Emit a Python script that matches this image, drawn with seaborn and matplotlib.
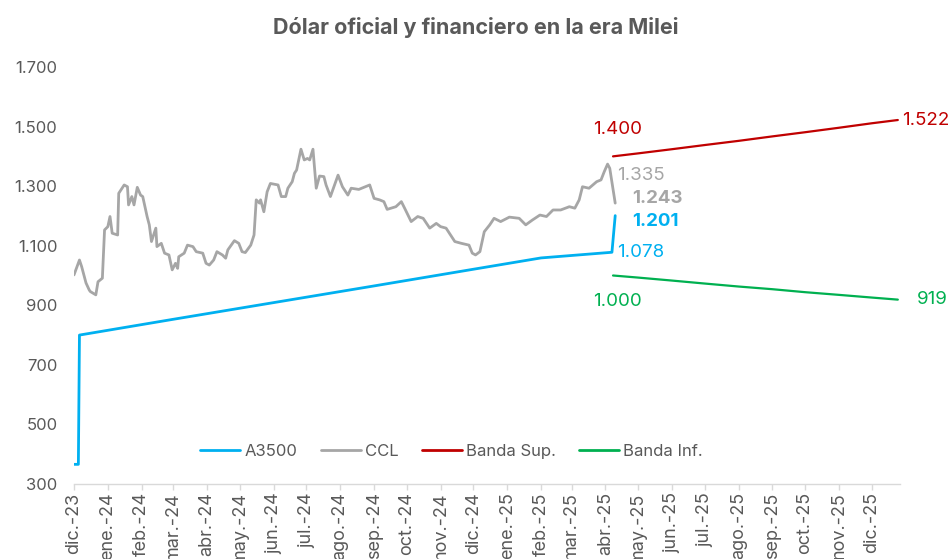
import pandas as pd
import numpy as np
import matplotlib
matplotlib.use('Agg')
import matplotlib.pyplot as plt
import matplotlib.dates as mdates
from matplotlib.ticker import FuncFormatter, FixedLocator
from matplotlib.lines import Line2D
import seaborn as sns

# --- data ---
a3500_dates = ['2023-12-01', '2023-12-05', '2023-12-06', '2024-03-01', '2024-06-01',
               '2024-09-01', '2024-12-01', '2025-02-01', '2025-04-07', '2025-04-10']
a3500_vals = [366, 366, 800, 853, 909, 965, 1021, 1059, 1078, 1201]

ccl_dates = ['2023-12-01', '2023-12-06', '2023-12-08', '2023-12-12', '2023-12-15', '2023-12-16',
             '2023-12-21', '2023-12-23', '2023-12-27', '2023-12-29', '2024-01-01', '2024-01-03',
             '2024-01-05', '2024-01-10', '2024-01-11', '2024-01-16', '2024-01-19', '2024-01-20',
             '2024-01-23', '2024-01-25', '2024-01-28', '2024-01-31', '2024-02-02', '2024-02-06',
             '2024-02-08', '2024-02-10', '2024-02-14', '2024-02-15', '2024-02-19', '2024-02-22',
             '2024-02-26', '2024-02-29', '2024-03-03', '2024-03-05', '2024-03-06', '2024-03-11',
             '2024-03-14', '2024-03-19', '2024-03-22', '2024-03-28', '2024-03-31', '2024-04-03',
             '2024-04-07', '2024-04-10', '2024-04-15', '2024-04-18', '2024-04-20', '2024-04-26',
             '2024-04-30', '2024-05-03', '2024-05-06', '2024-05-11', '2024-05-14', '2024-05-16',
             '2024-05-19', '2024-05-20', '2024-05-23', '2024-05-26', '2024-05-29', '2024-06-05',
             '2024-06-08', '2024-06-12', '2024-06-14', '2024-06-18', '2024-06-20', '2024-06-22',
             '2024-06-26', '2024-06-29', '2024-07-02', '2024-07-04', '2024-07-07', '2024-07-10',
             '2024-07-13', '2024-07-17', '2024-07-19', '2024-07-23', '2024-07-30', '2024-08-03',
             '2024-08-08', '2024-08-11', '2024-08-18', '2024-08-28', '2024-09-01', '2024-09-06',
             '2024-09-10', '2024-09-13', '2024-09-21', '2024-09-26', '2024-09-29', '2024-10-05',
             '2024-10-11', '2024-10-16', '2024-10-22', '2024-10-28', '2024-11-01', '2024-11-06',
             '2024-11-14', '2024-11-20', '2024-11-27', '2024-11-30', '2024-12-03', '2024-12-07',
             '2024-12-11', '2024-12-16', '2024-12-20', '2024-12-26', '2025-01-03', '2025-01-12',
             '2025-01-18', '2025-01-24', '2025-01-31', '2025-02-06', '2025-02-12', '2025-02-19',
             '2025-02-27', '2025-03-04', '2025-03-08', '2025-03-11', '2025-03-17', '2025-03-24',
             '2025-03-28', '2025-03-31', '2025-04-03', '2025-04-05', '2025-04-10']
ccl_vals = [1002, 1052, 1030, 975, 951, 946, 935, 979, 991, 1153, 1164, 1198,
            1142, 1136, 1276, 1304, 1298, 1237, 1265, 1237, 1296, 1270, 1265, 1198,
            1170, 1114, 1159, 1097, 1108, 1075, 1069, 1019, 1041, 1024, 1063, 1075,
            1102, 1097, 1080, 1075, 1041, 1035, 1052, 1080, 1069, 1058, 1086, 1117,
            1108, 1080, 1077, 1102, 1136, 1254, 1243, 1254, 1214, 1281, 1309, 1304,
            1265, 1265, 1293, 1315, 1343, 1354, 1424, 1388, 1393, 1388, 1424, 1293,
            1334, 1332, 1304, 1265, 1337, 1298, 1270, 1293, 1289, 1304, 1259, 1254,
            1248, 1222, 1231, 1248, 1226, 1181, 1198, 1192, 1159, 1175, 1164, 1159,
            1114, 1108, 1102, 1075, 1069, 1080, 1147, 1170, 1192, 1181, 1196, 1192,
            1170, 1186, 1203, 1198, 1220, 1220, 1231, 1226, 1254, 1298, 1293, 1315,
            1321, 1349, 1374, 1360, 1243]

band_dates = ['2025-04-08', '2025-05-01', '2025-06-01', '2025-07-01', '2025-08-01',
              '2025-09-01', '2025-10-01', '2025-11-01', '2025-12-01', '2025-12-25']
band_sup = [1400, 1410, 1424, 1438, 1452, 1467, 1481, 1496, 1511, 1522]
band_inf = [1000, 993, 983, 973, 963, 954, 944, 935, 926, 919]

ccl_prev_label = '1.335'
month_abbr = ['ene.', 'feb.', 'mar.', 'abr.', 'may.', 'jun.',
              'jul.', 'ago.', 'sep.', 'oct.', 'nov.', 'dic.']

# colours
C_A3500 = '#00B0F0'
C_CCL = '#A6A6A6'
C_SUP = '#C00000'
C_INF = '#00B050'
C_TXT = '#595959'

df = pd.concat([
    pd.DataFrame({'fecha': pd.to_datetime(a3500_dates), 'valor': a3500_vals, 'serie': 'A3500'}),
    pd.DataFrame({'fecha': pd.to_datetime(ccl_dates), 'valor': ccl_vals, 'serie': 'CCL'}),
    pd.DataFrame({'fecha': pd.to_datetime(band_dates), 'valor': band_sup, 'serie': 'Banda Sup.'}),
    pd.DataFrame({'fecha': pd.to_datetime(band_dates), 'valor': band_inf, 'serie': 'Banda Inf.'}),
], ignore_index=True)

sns.set_theme(style='white')
plt.rcParams['font.family'] = ['Inter', 'DejaVu Sans']

fig = plt.figure(figsize=(9.49, 5.59), dpi=100)
ax = fig.add_axes([74 / 949, 1 - 484 / 559, (900 - 74) / 949, (484 - 67) / 559])

palette = {'A3500': C_A3500, 'CCL': C_CCL, 'Banda Sup.': C_SUP, 'Banda Inf.': C_INF}
widths = {'A3500': 2.0, 'CCL': 2.0, 'Banda Sup.': 1.6, 'Banda Inf.': 1.6}
for name in ['Banda Inf.', 'Banda Sup.', 'CCL', 'A3500']:
    sub = df[df['serie'] == name]
    sns.lineplot(data=sub, x='fecha', y='valor', color=palette[name],
                 linewidth=widths[name], ax=ax, legend=False)

# axes styling
ax.set_ylim(300, 1700)
ax.set_yticks(np.arange(300, 1701, 200))
ax.yaxis.set_major_formatter(FuncFormatter(lambda v, p: f'{v:,.0f}'.replace(',', '.')))
ax.set_xlim(pd.Timestamp('2023-12-01'), pd.Timestamp('2025-12-27'))
ticks = pd.date_range('2023-12-01', '2025-12-01', freq='MS')
ax.xaxis.set_major_locator(FixedLocator(mdates.date2num(ticks)))
ax.set_xticklabels([f'{month_abbr[t.month - 1]}-{t.year % 100}' for t in ticks],
                   rotation=90, va='top', ha='center')
ax.set_xlabel('')
ax.set_ylabel('')
for s in ['top', 'right', 'left']:
    ax.spines[s].set_visible(False)
ax.spines['bottom'].set_color('#D9D9D9')
ax.spines['bottom'].set_linewidth(1.0)
ax.tick_params(axis='x', colors='#D9D9D9', labelcolor=C_TXT, length=4, width=1,
               direction='out', bottom=True, labelsize=13, pad=2)
ax.tick_params(axis='y', labelcolor=C_TXT, length=0, labelsize=12, pad=12)
ax.grid(False)

# labels on last points
def lbl(txt, x, y, dx, dy, color, bold=False, ha='left'):
    ax.annotate(txt, xy=(pd.Timestamp(x), y), xytext=(dx, dy), textcoords='offset points',
                color=color, fontsize=13.5, fontweight='bold' if bold else 'normal',
                ha=ha, va='center', annotation_clip=False)

fmt = lambda v: f'{v:,.0f}'.replace(',', '.')
lbl(fmt(band_sup[0]), band_dates[0], band_sup[0], 3, 19, C_SUP, ha='center')
lbl(fmt(band_sup[-1]), band_dates[-1], band_sup[-1], 3, 0, C_SUP)
lbl(fmt(band_inf[0]), band_dates[0], band_inf[0], 3, -19, C_INF, ha='center')
lbl(fmt(band_inf[-1]), band_dates[-1], band_inf[-1], 14, 0, C_INF)
lbl(ccl_prev_label, ccl_dates[-1], 1337, 1, 0, C_CCL)
lbl(fmt(ccl_vals[-1]), ccl_dates[-1], 1260, 12, 0, C_CCL, bold=True)
lbl(fmt(a3500_vals[-1]), a3500_dates[-1], 1181, 12, 0, C_A3500, bold=True)
lbl(fmt(a3500_vals[-2]), a3500_dates[-1], 1077, 1, 0, C_A3500)

handles = [Line2D([], [], color=palette[n], linewidth=2) for n in palette]
leg = ax.legend(handles, list(palette), loc='center', bbox_to_anchor=(0.457, 0.079),
                ncol=4, frameon=False, fontsize=12, handlelength=2.4,
                handletextpad=0.25, columnspacing=1.4)
for t in leg.get_texts():
    t.set_color(C_TXT)

fig.text(0.5016, 1 - 27 / 559, 'Dólar oficial y financiero en la era Milei',
         ha='center', va='center', fontsize=15.5, fontweight='bold', color=C_TXT)

fig.savefig('out.png', dpi=100)
